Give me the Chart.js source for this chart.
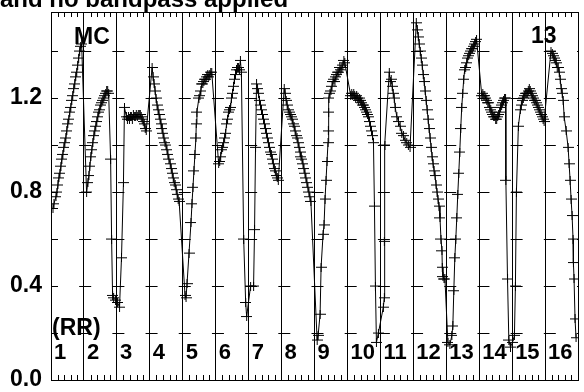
<!DOCTYPE html>
<html>
<head>
<meta charset="utf-8">
<script src="https://cdn.jsdelivr.net/npm/chart.js@4/dist/chart.umd.min.js"></script>
<style>
  body { margin: 0; background: #fff; }
  canvas { display: block; }
</style>
</head>
<body>
<canvas id="curva" width="584" height="392"></canvas>
<script>
const titleText = "and no bandpass applied";
const cornerLeft = "MC";
const cornerRight = "13";
const typeLabel = "(RR)";
const panelLabels = ["1","2","3","4","5","6","7","8","9","10","11","12","13","14","15","16"];
const yTickLabels = ["0.0", "0.4", "0.8", "1.2"];

// light curve, [x, flux], panel i spans x = i .. i+1
const lightCurve = [
  // 1
  [0.06,0.73],[0.09,0.75],[0.15,0.78],[0.18,0.80],[0.21,0.83],[0.24,0.86],[0.27,0.88],[0.30,0.91],[0.33,0.94],[0.36,0.96],
  [0.39,0.99],[0.42,1.01],[0.45,1.03],[0.48,1.06],[0.51,1.09],[0.54,1.11],[0.57,1.14],[0.60,1.16],[0.63,1.19],[0.66,1.21],
  [0.69,1.24],[0.72,1.26],[0.75,1.29],[0.78,1.31],[0.81,1.34],[0.84,1.37],[0.87,1.40],[0.90,1.42],[0.93,1.43],
  // 2
  [1.08,0.80],[1.12,0.84],[1.15,0.87],[1.18,0.91],[1.21,0.95],[1.24,0.98],[1.27,1.01],[1.30,1.04],[1.33,1.06],[1.36,1.08],
  [1.39,1.10],[1.42,1.12],[1.45,1.14],[1.48,1.15],[1.51,1.17],[1.54,1.18],[1.57,1.19],[1.60,1.20],[1.63,1.21],[1.66,1.22],
  [1.69,1.23],[1.72,1.23],[1.75,1.22],[1.81,0.94],[1.84,0.60],[1.87,0.36],[1.90,0.35],[1.96,0.34],
  // 3
  [2.02,0.33],[2.08,0.31],[2.14,0.52],[2.20,0.84],[2.23,1.16],[2.29,1.12],[2.32,1.11],[2.35,1.12],[2.38,1.11],[2.41,1.12],
  [2.44,1.12],[2.47,1.11],[2.50,1.13],[2.53,1.12],[2.56,1.12],[2.59,1.13],[2.62,1.12],[2.65,1.13],[2.68,1.13],[2.71,1.13],
  [2.74,1.12],[2.77,1.11],[2.80,1.10],[2.83,1.09],[2.86,1.07],[2.89,1.06],
  // 4
  [3.07,1.33],[3.10,1.29],[3.13,1.26],[3.16,1.23],[3.19,1.20],[3.22,1.17],[3.25,1.15],[3.28,1.13],[3.31,1.11],[3.34,1.09],
  [3.37,1.07],[3.40,1.05],[3.43,1.03],[3.46,1.01],[3.49,1.00],[3.52,0.98],[3.55,0.96],[3.58,0.94],[3.62,0.92],[3.65,0.90],
  [3.68,0.88],[3.71,0.86],[3.74,0.84],[3.77,0.83],[3.80,0.81],[3.83,0.79],[3.86,0.77],[3.89,0.76],
  // 5
  [4.07,0.36],[4.10,0.35],[4.13,0.41],[4.19,0.54],[4.25,0.67],[4.28,0.75],[4.31,0.82],[4.34,0.89],[4.37,0.96],[4.40,1.03],
  [4.41,1.09],[4.43,1.14],[4.49,1.20],[4.52,1.21],[4.55,1.23],[4.58,1.26],[4.61,1.26],[4.64,1.27],[4.67,1.28],[4.70,1.28],
  [4.73,1.29],[4.76,1.30],[4.79,1.29],[4.82,1.30],[4.85,1.31],[4.88,1.31],
  // 6
  [5.09,0.92],[5.12,0.93],[5.15,0.95],[5.18,0.98],[5.21,0.99],[5.24,1.01],[5.27,1.03],[5.30,1.05],[5.33,1.09],[5.36,1.11],
  [5.39,1.14],[5.42,1.15],[5.45,1.16],[5.48,1.20],[5.51,1.22],[5.54,1.25],[5.57,1.28],[5.60,1.30],[5.63,1.32],[5.66,1.33],
  [5.69,1.33],[5.72,1.32],[5.75,1.36],[5.78,1.31],[5.85,0.60],[5.91,0.33],[5.94,0.27],
  // 7
  [6.06,0.40],[6.15,0.40],[6.18,0.64],[6.21,0.99],[6.24,1.26],[6.27,1.24],[6.30,1.22],[6.33,1.19],[6.36,1.17],[6.39,1.15],
  [6.42,1.13],[6.45,1.11],[6.48,1.09],[6.51,1.07],[6.54,1.05],[6.57,1.03],[6.60,1.01],[6.63,0.99],[6.66,0.97],[6.69,0.96],
  [6.72,0.94],[6.75,0.92],[6.78,0.90],[6.81,0.89],[6.84,0.87],[6.87,0.86],[6.90,0.85],
  // 8
  [7.08,1.24],[7.11,1.22],[7.14,1.19],[7.17,1.17],[7.20,1.15],[7.23,1.14],[7.26,1.13],[7.29,1.12],[7.32,1.11],[7.35,1.09],
  [7.38,1.08],[7.41,1.06],[7.44,1.04],[7.47,1.03],[7.50,1.01],[7.53,0.99],[7.56,0.97],[7.59,0.95],[7.62,0.94],[7.65,0.92],
  [7.68,0.90],[7.71,0.88],[7.74,0.86],[7.77,0.84],[7.80,0.82],[7.83,0.80],[7.86,0.78],[7.89,0.76],
  // 9
  [8.08,0.17],[8.11,0.19],[8.17,0.28],[8.20,0.48],[8.26,0.62],[8.29,0.66],[8.32,0.77],[8.35,0.85],[8.38,0.93],[8.41,1.01],
  [8.42,1.06],[8.43,1.14],[8.44,1.20],[8.47,1.22],[8.50,1.23],[8.53,1.25],[8.56,1.27],[8.59,1.28],[8.62,1.27],[8.65,1.29],
  [8.68,1.30],[8.71,1.31],[8.74,1.31],[8.77,1.33],[8.80,1.32],[8.83,1.33],[8.86,1.34],[8.89,1.36],[8.92,1.35],
  // 10
  [9.10,1.21],[9.13,1.22],[9.16,1.21],[9.19,1.22],[9.22,1.21],[9.25,1.20],[9.28,1.21],[9.31,1.20],[9.34,1.19],[9.37,1.20],
  [9.40,1.19],[9.43,1.18],[9.46,1.17],[9.49,1.17],[9.52,1.16],[9.55,1.15],[9.58,1.14],[9.61,1.13],[9.64,1.12],[9.67,1.10],
  [9.70,1.08],[9.73,1.06],[9.76,1.04],[9.79,1.01],[9.82,0.74],[9.85,0.40],[9.88,0.16],[9.94,0.20],
  // 11
  [10.09,0.31],[10.12,0.35],[10.12,0.59],[10.14,1.00],[10.27,1.31],[10.30,1.27],[10.33,1.28],[10.36,1.25],[10.39,1.22],
  [10.42,1.20],[10.45,1.16],[10.50,1.12],[10.55,1.10],[10.60,1.08],[10.65,1.05],[10.70,1.04],[10.75,1.02],[10.80,1.01],
  [10.85,1.00],[10.90,0.99],
  // 12
  [11.09,1.52],[11.12,1.49],[11.15,1.46],[11.18,1.43],[11.21,1.40],[11.24,1.37],[11.27,1.34],[11.30,1.30],[11.33,1.27],
  [11.36,1.23],[11.39,1.19],[11.42,1.15],[11.45,1.11],[11.48,1.07],[11.51,1.03],[11.54,0.99],[11.57,0.95],[11.60,0.92],
  [11.63,0.89],[11.66,0.87],[11.69,0.83],[11.72,0.80],[11.75,0.77],[11.78,0.74],[11.81,0.69],[11.84,0.60],[11.87,0.55],
  [11.88,0.48],[11.90,0.44],[11.93,0.43],[11.96,0.43],
  // 13
  [12.05,0.16],[12.11,0.15],[12.17,0.19],[12.20,0.23],[12.23,0.38],[12.26,0.52],[12.29,0.60],[12.32,0.69],[12.35,0.79],
  [12.38,0.88],[12.41,0.97],[12.44,1.07],[12.47,1.16],[12.50,1.22],[12.53,1.28],[12.56,1.32],[12.59,1.33],[12.62,1.35],
  [12.65,1.37],[12.68,1.38],[12.71,1.39],[12.74,1.40],[12.77,1.41],[12.80,1.41],[12.83,1.42],[12.86,1.43],[12.89,1.44],
  [12.92,1.45],
  // 14
  [13.08,1.21],[13.11,1.22],[13.14,1.21],[13.17,1.21],[13.20,1.20],[13.23,1.19],[13.26,1.18],[13.29,1.18],[13.32,1.16],
  [13.35,1.15],[13.38,1.14],[13.41,1.13],[13.44,1.12],[13.47,1.12],[13.50,1.11],[13.53,1.11],[13.56,1.12],[13.59,1.13],
  [13.62,1.14],[13.65,1.16],[13.68,1.17],[13.71,1.18],[13.74,1.19],[13.77,1.20],[13.80,1.20],[13.81,0.85],[13.86,0.43],
  [13.90,0.17],[13.95,0.14],
  // 15
  [14.01,0.16],[14.07,0.19],[14.10,0.40],[14.13,0.80],[14.19,1.08],[14.25,1.15],[14.28,1.17],[14.31,1.19],[14.34,1.20],
  [14.37,1.21],[14.40,1.22],[14.43,1.22],[14.46,1.22],[14.49,1.23],[14.52,1.24],[14.55,1.23],[14.58,1.22],[14.61,1.21],
  [14.64,1.20],[14.67,1.19],[14.70,1.19],[14.73,1.18],[14.76,1.17],[14.79,1.16],[14.82,1.15],[14.85,1.14],[14.88,1.13],
  [14.91,1.12],[14.94,1.11],[14.97,1.10],
  // 16
  [15.18,1.40],[15.22,1.39],[15.25,1.38],[15.28,1.37],[15.31,1.36],[15.34,1.35],[15.37,1.33],[15.40,1.33],[15.43,1.31],
  [15.46,1.28],[15.49,1.24],[15.52,1.22],[15.55,1.19],[15.58,1.12],[15.64,1.06],[15.70,0.99],[15.73,0.92],[15.76,0.85],
  [15.79,0.77],[15.82,0.70],[15.85,0.60],[15.86,0.50],[15.88,0.43],[15.91,0.26],[15.94,0.18]
];

const FONT = '"Liberation Sans", Arial, sans-serif';
const nPanels = panelLabels.length;

// "+" marker, a bit wider than tall
const cruz = document.createElement("canvas");
cruz.width = 11;
cruz.height = 9;
const cc = cruz.getContext("2d");
cc.strokeStyle = "#000";
cc.lineWidth = 1;
cc.beginPath();
cc.moveTo(0, 4.5); cc.lineTo(11, 4.5);
cc.moveTo(5.5, 0); cc.lineTo(5.5, 9);
cc.stroke();

const decoraciones = {
  id: "decoraciones",
  afterDraw(chart) {
    const { ctx, chartArea: a, scales: { x } } = chart;
    ctx.save();
    ctx.strokeStyle = "#000";
    ctx.lineWidth = 1;
    ctx.beginPath();
    // marco superior
    ctx.moveTo(a.left, a.top + 0.5);
    ctx.lineTo(a.right, a.top + 0.5);
    // ticks menores arriba y abajo
    for (let i = 0; i < nPanels; i++) {
      for (let j = 1; j < 5; j++) {
        const px = Math.round(x.getPixelForValue(i + j * 0.2)) + 0.5;
        ctx.moveTo(px, a.top);
        ctx.lineTo(px, a.top + 5);
        ctx.moveTo(px, a.bottom);
        ctx.lineTo(px, a.bottom - 5);
      }
    }
    ctx.stroke();

    ctx.fillStyle = "#000";
    ctx.textBaseline = "alphabetic";
    ctx.textAlign = "left";
    ctx.font = "bold 24px " + FONT;
    ctx.fillText(titleText, 0, 7);

    ctx.font = "bold 23px " + FONT;
    ctx.fillText(cornerLeft, a.left + 23, a.top + 32);
    ctx.fillText(cornerRight, a.right - 47, a.top + 31);
    ctx.fillText(typeLabel, a.left + 1, a.bottom - 45);
    ctx.font = "bold 22px " + FONT;
    panelLabels.forEach((lab, i) => {
      ctx.fillText(lab, x.getPixelForValue(i) + 3, a.bottom - 21);
    });
    ctx.restore();
  }
};

const panelW = 531 / nPanels;

new Chart(document.getElementById("curva"), {
  type: "line",
  data: {
    datasets: [{
      data: lightCurve.map(([px, py]) => ({ x: px, y: py })),
      borderColor: "#000",
      borderWidth: 1,
      tension: 0,
      pointStyle: cruz,
      pointRadius: 5,
      pointHoverRadius: 5
    }]
  },
  options: {
    responsive: false,
    animation: false,
    devicePixelRatio: 1,
    layout: { padding: { top: 12, right: 2, left: 0, bottom: 0 } },
    plugins: { legend: { display: false }, tooltip: { enabled: false }, title: { display: false } },
    scales: {
      x: {
        type: "linear",
        min: 0,
        max: nPanels,
        ticks: { stepSize: 1, display: false },
        grid: { color: "#000", lineWidth: 1, drawTicks: false },
        border: { color: "#000", width: 1 },
        afterFit: s => { s.height = 12; s.paddingLeft = 0; s.paddingRight = 0; }
      },
      y: {
        min: 0,
        max: 1.566,
        ticks: {
          stepSize: 0.2,
          includeBounds: false,
          padding: 9,
          color: "#000",
          font: { family: FONT, size: 23, weight: "bold" },
          callback: v => {
            const k = Math.round(v * 10);
            if (Math.abs(v * 10 - k) > 1e-6 || k % 4 !== 0) return "";
            return yTickLabels[k / 4] || "";
          }
        },
        grid: { color: "#000", lineWidth: 1, drawTicks: false },
        border: { color: "#000", width: 1, dash: [12, panelW - 12], dashOffset: 6 },
        afterFit: s => { s.width = 51; s.paddingTop = 0; s.paddingBottom = 0; }
      }
    }
  },
  plugins: [decoraciones]
});
</script>
</body>
</html>
